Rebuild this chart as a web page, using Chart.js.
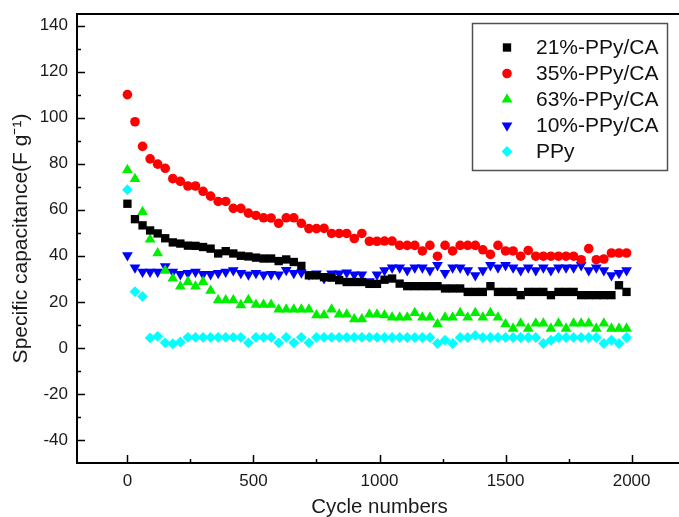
<!DOCTYPE html>
<html>
<head>
<meta charset="utf-8">
<script src="https://cdn.jsdelivr.net/npm/chart.js@4/dist/chart.umd.min.js"></script>
<style>
  html, body { margin: 0; padding: 0; background: #fff; overflow: hidden; }
  canvas { display: block; }
</style>
</head>
<body>
<canvas id="c" width="690" height="517"></canvas>
<script>
// ---------- data ----------
const cycles = [0,30,60,90,120,150,180,210,240,270,300,330,360,390,420,450,480,510,540,570,600,630,660,690,720,750,780,810,840,870,900,930,960,990,1020,1050,1080,1110,1140,1170,1200,1230,1260,1290,1320,1350,1380,1410,1440,1470,1500,1530,1560,1590,1620,1650,1680,1710,1740,1770,1800,1830,1860,1890,1920,1950,1980];

const ppy21 = [62.6,55.9,53.2,51.0,49.7,47.6,45.8,45.3,44.4,44.3,43.8,43.1,41.0,42.0,41.0,40.0,39.7,39.2,38.8,38.8,37.7,38.4,37.3,35.6,31.5,31.5,30.7,30.5,29.4,28.6,28.6,28.6,27.8,27.8,29.6,30.1,27.9,26.8,26.8,26.8,26.8,26.8,25.8,25.8,25.8,24.3,24.3,24.3,26.8,24.3,24.3,24.3,22.9,24.3,24.3,24.3,22.9,24.3,24.3,24.3,22.9,22.9,22.9,22.9,22.9,27.2,24.3];

const ppy35 = [110.0,98.2,87.5,82.1,79.8,78.0,73.5,72.3,70.3,70.3,68.0,65.9,63.6,63.6,60.6,60.6,58.5,57.5,56.5,56.4,54.1,56.5,56.5,54.1,51.8,51.8,51.9,49.7,49.7,49.7,47.5,49.7,46.3,46.3,46.4,46.4,44.5,44.5,44.5,42.1,44.5,39.8,44.5,42.1,44.5,44.5,44.5,42.6,40.6,44.5,42.1,42.1,39.8,42.3,39.8,39.8,39.8,39.8,39.8,39.8,38.3,43.1,38.3,38.6,41.2,41.2,41.2];

const ppy63 = [77.3,73.4,59.0,47.1,41.1,33.5,30.2,26.7,28.7,26.7,28.7,24.8,20.7,20.7,20.7,18.6,20.8,18.8,18.8,18.8,16.7,16.7,16.7,16.7,16.7,14.2,14.2,16.7,14.5,14.5,12.5,12.5,14.5,14.5,14.2,13.2,13.2,13.2,15.2,13.2,13.2,10.3,13.2,13.2,15.2,13.2,15.2,13.2,15.2,13.2,10.3,8.4,10.6,8.4,10.6,10.6,8.4,10.6,8.4,10.6,10.6,10.6,8.4,10.6,8.4,8.4,8.4];

const ppy10 = [40.2,34.9,33.0,33.0,33.0,35.4,33.0,32.0,32.5,33.0,32.0,32.0,32.5,33.0,33.7,32.5,31.8,32.5,31.8,32.0,31.8,33.8,32.5,32.7,31.8,32.3,30.2,32.3,32.3,32.7,31.8,31.8,28.9,31.8,33.7,34.9,34.9,33.7,34.9,34.9,33.7,35.9,32.5,34.9,34.9,33.7,31.5,33.7,35.9,34.9,35.9,34.9,33.7,34.9,33.7,34.9,33.7,34.9,34.9,34.9,35.9,33.7,34.9,33.7,31.5,32.5,33.7];

const ppyPure = [68.7,24.4,22.3,4.3,5.0,2.2,1.8,2.6,4.6,4.6,4.6,4.6,4.6,4.6,4.6,4.6,2.2,4.6,4.6,4.6,2.2,4.6,2.2,4.6,2.2,4.6,4.6,4.6,4.6,4.6,4.6,4.6,4.6,4.6,4.5,4.5,4.5,4.5,4.5,4.5,4.5,1.9,3.3,1.9,4.5,4.5,5.4,4.5,4.5,4.5,4.5,4.5,4.5,4.5,4.5,1.9,3.3,4.5,4.5,4.5,4.5,4.5,4.5,1.9,3.3,1.9,4.5];

const seriesLabels = ['21%-PPy/CA', '35%-PPy/CA', '63%-PPy/CA', '10%-PPy/CA', 'PPy'];

const xTicks = [0, 500, 1000, 1500, 2000];
const xMinorTicks = [250, 750, 1250, 1750];
const yTicks = [-40, -20, 0, 20, 40, 60, 80, 100, 120, 140];
const yMinorTicks = [-30, -10, 10, 30, 50, 70, 90, 110, 130];

const xTitle = 'Cycle numbers';
const yTitle = 'Specific capacitance(F g\u207B\u00B9)';

// ---------- chart ----------
const FONT = '"Liberation Sans", Arial, Helvetica, sans-serif';

function pts(values) { return cycles.map((c, i) => ({ x: c, y: values[i] })); }

function ds(label, values, color, style, radius, rotation) {
  return {
    label: label,
    data: pts(values),
    showLine: false,
    pointStyle: style,
    pointRadius: radius,
    pointHoverRadius: radius,
    pointRotation: rotation || 0,
    pointBackgroundColor: color,
    pointBorderColor: color,
    pointBorderWidth: 0,
    backgroundColor: color,
    borderColor: color
  };
}

const frameTicks = {
  id: 'frameTicks',
  afterDatasetsDraw(chart) {
    const { ctx, chartArea: a, scales: { x, y } } = chart;
    ctx.save();
    ctx.strokeStyle = '#000';
    ctx.lineWidth = 1.5;
    ctx.beginPath();
    xTicks.forEach(v => { const p = Math.round(x.getPixelForValue(v)) + 0.5; ctx.moveTo(p, a.bottom); ctx.lineTo(p, a.bottom - 8); });
    xMinorTicks.forEach(v => { const p = Math.round(x.getPixelForValue(v)) + 0.5; ctx.moveTo(p, a.bottom); ctx.lineTo(p, a.bottom - 4); });
    yTicks.forEach(v => { const p = Math.round(y.getPixelForValue(v)) + 0.5; ctx.moveTo(a.left, p); ctx.lineTo(a.left + 8, p); });
    yMinorTicks.forEach(v => { const p = Math.round(y.getPixelForValue(v)) + 0.5; ctx.moveTo(a.left, p); ctx.lineTo(a.left + 4, p); });
    ctx.stroke();
    ctx.lineWidth = 2;
    ctx.strokeRect(a.left, a.top, a.right - a.left, a.bottom - a.top);
    ctx.restore();
  }
};

const boxLegend = {
  id: 'boxLegend',
  afterDraw(chart) {
    const ctx = chart.ctx;
    ctx.save();
    ctx.strokeStyle = '#505050';
    ctx.lineWidth = 1.5;
    ctx.strokeRect(472.5, 23.5, 195, 147);
    chart.data.datasets.forEach((d, i) => {
      const yy = 47.5 + i * 26;
      ctx.fillStyle = d.pointBackgroundColor;
      ctx.strokeStyle = d.pointBorderColor;
      Chart.helpers.drawPoint(ctx, { pointStyle: d.pointStyle, radius: d.pointRadius, rotation: d.pointRotation, borderWidth: 0 }, 507, yy);
      ctx.fillStyle = '#111';
      ctx.font = '21px ' + FONT;
      ctx.textBaseline = 'middle';
      ctx.textAlign = 'left';
      ctx.fillText(d.label, 536, yy + 1);
    });
    ctx.restore();
  }
};

new Chart(document.getElementById('c'), {
  type: 'scatter',
  data: {
    datasets: [
      ds(seriesLabels[0], ppy21, '#000000', 'rect', 5.9, 0),
      ds(seriesLabels[1], ppy35, '#ff0000', 'circle', 4.8, 0),
      ds(seriesLabels[2], ppy63, '#00ee00', 'triangle', 6.2, 0),
      ds(seriesLabels[3], ppy10, '#0000ff', 'triangle', 6.2, 180),
      ds(seriesLabels[4], ppyPure, '#00ffff', 'rectRot', 5.4, 0)
    ]
  },
  options: {
    responsive: false,
    animation: false,
    devicePixelRatio: 1,
    layout: { padding: { left: 0, top: 14, right: 8, bottom: 0 } },
    plugins: {
      legend: { display: false },
      tooltip: { enabled: false }
    },
    scales: {
      x: {
        type: 'linear',
        min: -200,
        max: 2200,
        grid: { display: false, drawTicks: false },
        border: { display: false },
        afterBuildTicks: s => { s.ticks = xTicks.map(v => ({ value: v })); },
        afterFit: s => { s.height = 54; s.paddingLeft = 0; s.paddingRight = 0; },
        ticks: {
          autoSkip: false,
          maxRotation: 0,
          padding: 8,
          color: '#1a1a1a',
          font: { family: FONT, size: 17 },
          callback: v => String(v)
        },
        title: {
          display: true,
          text: xTitle,
          color: '#1a1a1a',
          font: { family: FONT, size: 20.5 },
          padding: { top: 0, bottom: -3 }
        }
      },
      y: {
        type: 'linear',
        min: -50,
        max: 145,
        grid: { display: false, drawTicks: false },
        border: { display: false },
        afterBuildTicks: s => { s.ticks = yTicks.map(v => ({ value: v })); },
        afterFit: s => { s.width = 77; s.paddingTop = 0; s.paddingBottom = 0; },
        ticks: {
          autoSkip: false,
          padding: 9,
          color: '#1a1a1a',
          font: { family: FONT, size: 17 },
          callback: v => String(v)
        },
        title: {
          display: true,
          text: yTitle,
          color: '#1a1a1a',
          font: { family: FONT, size: 21 },
          padding: { top: 9, bottom: 0 }
        }
      }
    }
  },
  plugins: [frameTicks, boxLegend]
});
</script>
</body>
</html>
